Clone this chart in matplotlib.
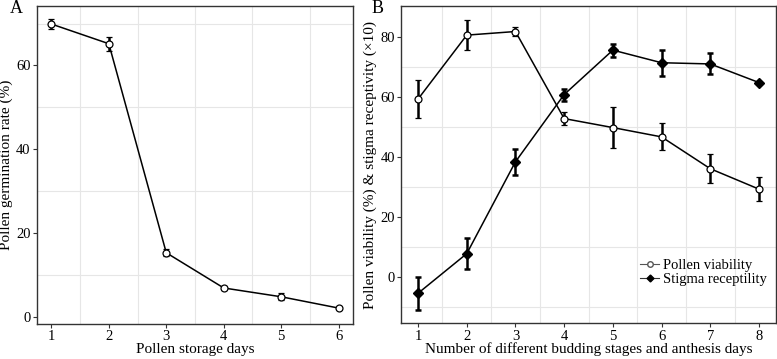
import matplotlib.pyplot as plt
from matplotlib.lines import Line2D

plt.rcParams['font.family'] = ['Liberation Serif', 'DejaVu Serif']

# panel A data
days_a = [1, 2, 3, 4, 5, 6]
germ = [69.9, 65.2, 15.3, 6.9, 4.8, 2.1]
germ_err = [1.2, 1.7, 0.8, 0.4, 0.8, 0.3]

# panel B data
days_b = [1, 2, 3, 4, 5, 6, 7, 8]
viab = [59.3, 80.6, 81.8, 52.8, 49.8, 46.7, 36.1, 29.3]
viab_err = [6.2, 5.1, 1.5, 2.3, 6.7, 4.5, 4.8, 3.9]
stig = [-5.4, 7.8, 38.4, 60.8, 75.6, 71.4, 71.0, 64.8]
stig_err = [5.5, 5.2, 4.4, 2.0, 2.2, 4.3, 3.5, 0.0]

fig = plt.figure(figsize=(7.77, 3.59), dpi=100)
ax1 = fig.add_axes([37/777, 1-324/359, 316/777, 318/359])
ax2 = fig.add_axes([401/777, 1-323.3/359, 375/777, 317.3/359])

def style(ax):
    for s in ax.spines.values():
        s.set_color('#333333')
        s.set_linewidth(1.0)
    ax.tick_params(direction='out', length=3, width=0.8, color='#333333',
                   labelsize=10.5, pad=1.5)
    ax.set_axisbelow(True)

# panel A
ax1.errorbar(days_a, germ, yerr=germ_err, color='black', lw=1.1,
             ecolor='black', elinewidth=1.8, capsize=2.3, capthick=1.8,
             marker='o', ms=5, mfc='white', mec='black', mew=0.9, zorder=3)
ax1.set_xlim(0.75, 6.25)
ax1.set_ylim(-1.7, 74.2)
ax1.set_xticks(days_a)
ax1.set_yticks([0, 20, 40, 60])
ax1.set_xticks([1.5, 2.5, 3.5, 4.5, 5.5], minor=True)
ax1.set_yticks([10, 30, 50, 70], minor=True)
ax1.tick_params(which='minor', length=0)
ax1.grid(which='minor', color='#e6e6e6', lw=0.8)
ax1.set_xlabel('Pollen storage days', fontsize=11, labelpad=0)
ax1.set_ylabel('Pollen germination rate (%)', fontsize=11, labelpad=2)
style(ax1)
fig.text(10/777, 1-8.5/359, 'A', fontsize=13, va='center', ha='left')

# panel B
ax2.errorbar(days_b, viab, yerr=viab_err, color='black', lw=1.1,
             ecolor='black', elinewidth=1.8, capsize=2.3, capthick=1.8,
             marker='o', ms=5, mfc='white', mec='black', mew=0.9, zorder=3)
ax2.errorbar(days_b, stig, yerr=stig_err, color='black', lw=1.1,
             ecolor='black', elinewidth=1.8, capsize=2.3, capthick=1.8,
             marker='D', ms=4.8, mfc='black', mec='black', zorder=3)
ax2.set_xlim(0.65, 8.35)
ax2.set_ylim(-15.4, 90.3)
ax2.set_xticks(days_b)
ax2.set_yticks([0, 20, 40, 60, 80])
ax2.set_xticks([1.5, 2.5, 3.5, 4.5, 5.5, 6.5, 7.5], minor=True)
ax2.set_yticks([-10, 10, 30, 50, 70], minor=True)
ax2.tick_params(which='minor', length=0)
ax2.grid(which='minor', color='#e6e6e6', lw=0.8)
ax2.set_xlabel('Number of different budding stages and anthesis days',
               fontsize=11, labelpad=0)
ax2.set_ylabel('Pollen viability (%) & stigma receptivity (\u00d710)',
               fontsize=11, labelpad=2)
style(ax2)
fig.text(372/777, 1-8.5/359, 'B', fontsize=13, va='center', ha='left')

handles = [
    Line2D([], [], color='#555555', lw=0.8, marker='o', ms=4,
           mfc='white', mec='#555555'),
    Line2D([], [], color='#333333', lw=0.8, marker='D', ms=3.5,
           mfc='black', mec='black'),
]
ax2.legend(handles, ['Pollen viability', 'Stigma receptility'],
           loc='lower right', bbox_to_anchor=(1.0, 0.09), frameon=False,
           fontsize=10.5, handlelength=1.3, handletextpad=0.3,
           labelspacing=0.05, borderaxespad=0.2)

fig.savefig('out.png', dpi=100)
